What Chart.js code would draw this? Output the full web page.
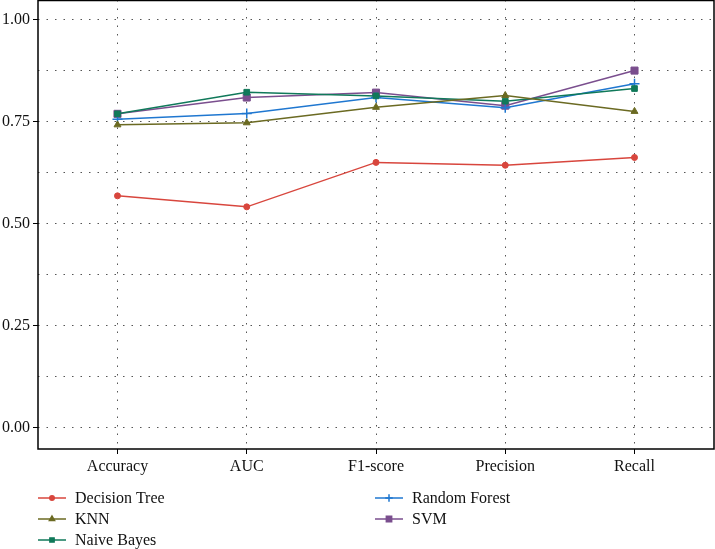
<!DOCTYPE html>
<html>
<head>
<meta charset="utf-8">
<script src="https://cdn.jsdelivr.net/npm/chart.js@4/dist/chart.umd.min.js"></script>
<style>
	html, body { margin: 0; padding: 0; background: #fff; }
	#wrap { width: 715px; height: 549px; }
</style>
</head>
<body>
<div id="wrap"><canvas id="chart" width="715" height="549"></canvas></div>
<script>
// values
var metrics      = ['Accuracy', 'AUC', 'F1-score', 'Precision', 'Recall'];
var decisionTree = [0.569, 0.542, 0.651, 0.644, 0.663];
var knn          = [0.743, 0.748, 0.786, 0.815, 0.776];
var naiveBayes   = [0.770, 0.823, 0.814, 0.801, 0.832];
var randomForest = [0.757, 0.771, 0.810, 0.785, 0.844];
var svm          = [0.770, 0.810, 0.822, 0.790, 0.876];
var yTicks       = [0, 0.125, 0.25, 0.375, 0.5, 0.625, 0.75, 0.875, 1];

var FONT = '"Liberation Serif", "DejaVu Serif", serif';

function points(arr) {
	return arr.map(function(v, i) { return { x: i, y: v }; });
}

function isMajor(v) {
	return Math.abs(v * 4 - Math.round(v * 4)) < 1e-6;
}

function series(label, arr, color, style, radius) {
	return {
		label: label,
		data: points(arr),
		borderColor: color,
		backgroundColor: color,
		pointBackgroundColor: color,
		pointBorderColor: color,
		pointStyle: style,
		pointRadius: radius,
		pointBorderWidth: style === 'cross' ? 1.5 : 1,
		borderWidth: 1.5,
		tension: 0
	};
}

// box around the plot + two column legend underneath
var boxAndLegend = {
	id: 'boxAndLegend',
	afterDraw: function(chart) {
		var ctx = chart.ctx, a = chart.chartArea;
		ctx.save();
		ctx.strokeStyle = '#000';
		ctx.lineWidth = 1.5;
		ctx.strokeRect(a.left, a.top + 0.5, a.right - a.left, a.bottom - a.top - 0.5);

		var cols = [38, 375], rows = [498, 519, 540];
		chart.data.datasets.forEach(function(ds, i) {
			var x = i < 3 ? cols[0] : cols[1],
				y = rows[i < 3 ? i : i - 3];
			ctx.strokeStyle = ds.borderColor;
			ctx.fillStyle = ds.borderColor;
			ctx.lineWidth = 1.5;
			ctx.beginPath();
			ctx.moveTo(x, y);
			ctx.lineTo(x + 28, y);
			ctx.stroke();
			Chart.helpers.drawPoint(ctx, {
				pointStyle: ds.pointStyle,
				radius: ds.pointRadius * 0.75,
				borderWidth: ds.pointBorderWidth,
				rotation: 0
			}, x + 14, y);
			ctx.fillStyle = '#111';
			ctx.font = '16px ' + FONT;
			ctx.textBaseline = 'middle';
			ctx.fillText(ds.label, x + 37, y + 1);
		});
		ctx.restore();
	}
};

new Chart(document.getElementById('chart').getContext('2d'), {
	type: 'line',
	data: {
		datasets: [
			series('Decision Tree', decisionTree, '#d8463d', 'circle', 3),
			series('KNN', knn, '#6b6a22', 'triangle', 4),
			series('Naive Bayes', naiveBayes, '#10795a', 'rect', 4),
			series('Random Forest', randomForest, '#1f77d0', 'cross', 5),
			series('SVM', svm, '#7a4e8e', 'rect', 5)
		]
	},
	options: {
		responsive: false,
		animation: false,
		layout: { autoPadding: false, padding: { top: 0, right: 1, left: 0, bottom: 0 } },
		plugins: {
			legend: { display: false },
			tooltip: { enabled: false }
		},
		scales: {
			x: {
				type: 'linear',
				min: -0.615,
				max: 4.615,
				afterBuildTicks: function(scale) {
					scale.ticks = metrics.map(function(m, i) { return { value: i }; });
				},
				afterFit: function(scale) {
					scale.height = 100;
					scale.paddingLeft = 0;
					scale.paddingRight = 0;
				},
				ticks: {
					color: '#111',
					font: { family: FONT, size: 16 },
					padding: 3,
					callback: function(v) { return metrics[v]; }
				},
				grid: {
					color: '#555',
					lineWidth: 1,
					tickColor: '#000',
					tickLength: 5
				},
				border: { display: false, dash: [1.5, 7] }
			},
			y: {
				type: 'linear',
				min: -0.0515,
				max: 1.049,
				afterBuildTicks: function(scale) {
					scale.ticks = yTicks.map(function(v) { return { value: v }; });
				},
				afterFit: function(scale) {
					scale.width = 38;
					scale.paddingTop = 0;
					scale.paddingBottom = 0;
				},
				ticks: {
					color: '#111',
					font: { family: FONT, size: 16 },
					padding: 3,
					callback: function(v) { return isMajor(v) ? v.toFixed(2) : ''; }
				},
				grid: {
					color: '#555',
					lineWidth: 1,
					tickColor: function(c) { return isMajor(c.tick.value) ? '#000' : 'rgba(0,0,0,0)'; },
					tickLength: 5
				},
				border: { display: false, dash: [1.5, 7] }
			}
		}
	},
	plugins: [boxAndLegend]
});
</script>
</body>
</html>
